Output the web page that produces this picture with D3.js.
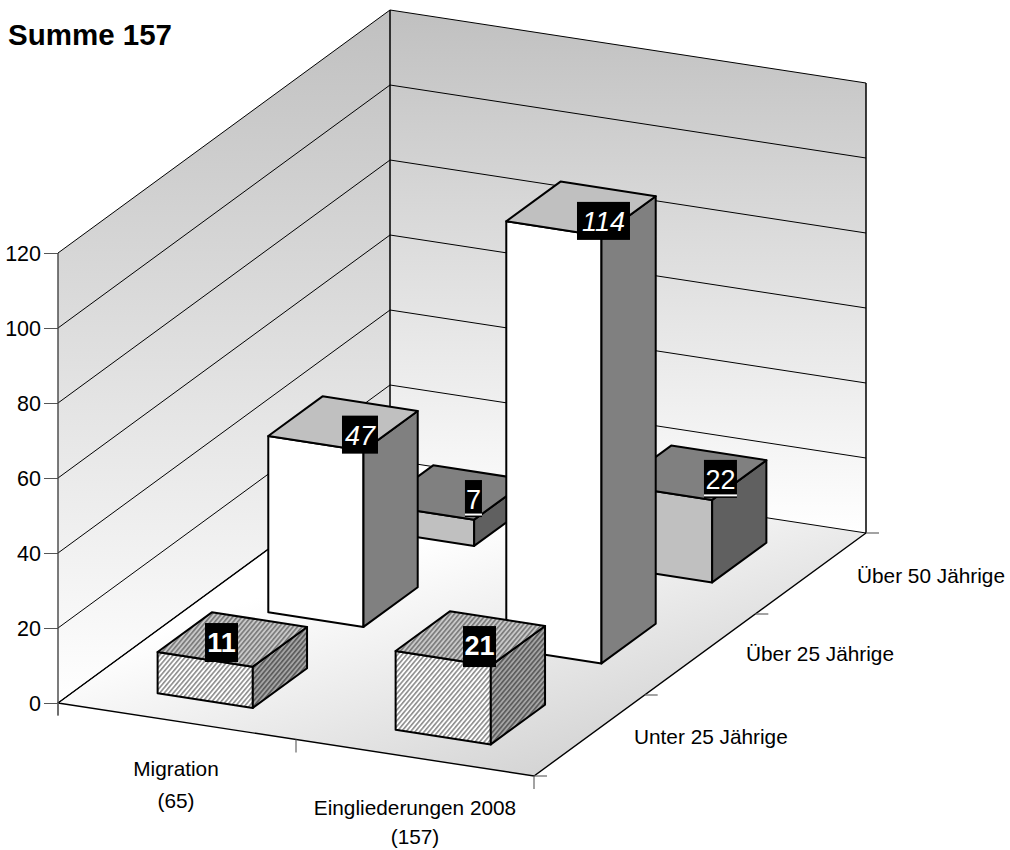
<!DOCTYPE html>
<html><head><meta charset="utf-8">
<script src="https://cdn.jsdelivr.net/npm/d3@7"></script>
<style>html,body{margin:0;padding:0;background:#fff}svg{display:block}text{font-family:"Liberation Sans",Arial,sans-serif}</style>
</head><body><svg id="c" width="1010" height="850"></svg>
<script>
const title = "Summe 157";
const columns = ["Migration", "Eingliederungen 2008"];
const columnTotals = ["(65)", "(157)"];
const rows = ["Unter 25 Jährige", "Über 25 Jährige", "Über 50 Jährige"];
const migration = [11, 47, 7];
const eingliederungen = [21, 114, 22];
const yTicks = [0, 20, 40, 60, 80, 100, 120];

// label styling per row and small per-label nudges
const labelStyle = [{weight:"bold"},{style:"italic"},{underline:true}];
const labelNudge = {"0-0":[-31.3,-4.6,39],"1-0":[-11.3,1.4,41],"0-1":[-3.5,3,38],"1-1":[2,4,38],"0-2":[-0.7,-2.6,37],"1-2":[8.3,-2,38]};
const rowLabelPos = [[634,744],[746,661],[857,583]];
const colLabelPos = [[176,776,808],[415,815,844]];

const svg = d3.select("#c");
const O = [58,703], DX = [476,73], DZ = [332,-243];
const yH = d3.scaleLinear().domain([0,120]).range([0,450]);
const xB = d3.scaleBand().domain(columns).range([0,1]).paddingInner(.6).paddingOuter(.3);
const zB = d3.scaleBand().domain(rows).range([0,1]).paddingInner(.51).paddingOuter(.255);
const P = (u,v,h=0)=>[O[0]+DX[0]*u+DZ[0]*v, O[1]+DX[1]*u+DZ[1]*v-yH(h)];
const poly = pts => "M"+pts.map(p=>p.join(",")).join("L")+"Z";

const defs = svg.append("defs");
function grad(id,p1,p2,stops){
  const g=defs.append("linearGradient").attr("id",id).attr("gradientUnits","userSpaceOnUse")
    .attr("x1",p1[0]).attr("y1",p1[1]).attr("x2",p2[0]).attr("y2",p2[1]);
  stops.forEach(s=>g.append("stop").attr("offset",s[0]).attr("stop-color",s[1]));
}
grad("gBack",[0,P(0,1,120)[1]],[0,P(1,1,0)[1]],[[0,"#c0c0c0"],[1,"#ffffff"]]);
grad("gLeft",[0,P(0,1,120)[1]],[0,P(0,0,0)[1]],[[0,"#c0c0c0"],[1,"#ffffff"]]);
grad("gFloor",[200,617],[283,864],[[0,"#ffffff"],[1,"#d4d4d4"]]);
function hatch(id,bg,fg){
  const p=defs.append("pattern").attr("id",id).attr("patternUnits","userSpaceOnUse")
    .attr("width",3.5).attr("height",3.5).attr("patternTransform","rotate(40)");
  p.append("rect").attr("width",3.5).attr("height",3.5).attr("fill",bg);
  p.append("rect").attr("width",1.6).attr("height",3.5).attr("fill",fg);
}
hatch("hFront","#ffffff","#8c8c8c");
hatch("hTop","#c8c8c8","#787878");
hatch("hSide","#a4a4a4","#585858");

// walls + floor
svg.append("path").attr("d",poly([P(0,0,0),P(0,0,120),P(0,1,120),P(0,1,0)])).attr("fill","url(#gLeft)");
svg.append("path").attr("d",poly([P(0,1,0),P(0,1,120),P(1,1,120),P(1,1,0)])).attr("fill","url(#gBack)");
svg.append("path").attr("d",poly([P(0,0),P(1,0),P(1,1),P(0,1)])).attr("fill","url(#gFloor)");

// grid lines
const lineG = svg.append("g").attr("stroke","#000").attr("stroke-width",1).attr("fill","none");
yTicks.forEach(t=>{
  lineG.append("path").attr("d","M"+[P(0,0,t),P(0,1,t),P(1,1,t)].map(p=>p.join(",")).join("L"));
});
lineG.append("path").attr("d",poly([P(0,1,0),P(0,1,120)]));
lineG.append("path").attr("d",poly([P(1,1,0),P(1,1,120)]));
// floor outline
svg.append("path").attr("d","M"+[P(0,1),P(0,0),P(1,0),P(1,1)].map(p=>p.join(",")).join("L"))
  .attr("fill","none").attr("stroke","#000").attr("stroke-width",1.4);

// y axis
const yAxisScale = d3.scaleLinear().domain([0,120]).range([O[1],O[1]-yH(120)]);
const ax = svg.append("g").attr("transform",`translate(${O[0]},0)`)
  .call(d3.axisLeft(yAxisScale).tickValues(yTicks).tickSize(14).tickPadding(3));
ax.selectAll("text").attr("font-size",21.5).attr("fill","#000").attr("font-family",'"Liberation Sans",Arial,sans-serif').attr("dy","0.36em");
ax.selectAll("line").attr("stroke","#555");
ax.select(".domain").remove();
svg.append("line").attr("x1",O[0]).attr("x2",O[0]).attr("y1",O[1]-yH(120)).attr("y2",O[1]+12).attr("stroke","#444").attr("stroke-width",1.4);

// floor ticks
[0,.5,1].forEach(u=>{const p=P(u,0);
  svg.append("line").attr("x1",p[0]).attr("x2",p[0]).attr("y1",p[1]).attr("y2",p[1]+13).attr("stroke","#666").attr("stroke-width",1.2);});
[0,1/3,2/3,1].forEach(v=>{const p=P(1,v);
  svg.append("line").attr("x1",p[0]).attr("x2",p[0]+13).attr("y1",p[1]).attr("y2",p[1]).attr("stroke","#666").attr("stroke-width",1.2);});

// bars, back to front
const series=[migration,eingliederungen];
const fills=[
  {front:"url(#hFront)",top:"url(#hTop)",side:"url(#hSide)"},
  {front:"#ffffff",top:"#c0c0c0",side:"#808080"},
  {front:"#c0c0c0",top:"#808080",side:"#606060"}];
const bars=svg.append("g").attr("stroke","#000").attr("stroke-width",2).attr("stroke-linejoin","round");
const labels=[];
for(let r=rows.length-1;r>=0;r--){
  columns.forEach((c,ci)=>{
    const val=series[ci][r];
    const u0=xB(c),u1=u0+xB.bandwidth(),v0=zB(rows[r]),v1=v0+zB.bandwidth();
    bars.append("path").attr("d",poly([P(u0,v0,0),P(u1,v0,0),P(u1,v0,val),P(u0,v0,val)])).attr("fill",fills[r].front);
    bars.append("path").attr("d",poly([P(u1,v0,0),P(u1,v1,0),P(u1,v1,val),P(u1,v0,val)])).attr("fill",fills[r].side);
    bars.append("path").attr("d",poly([P(u0,v0,val),P(u1,v0,val),P(u1,v1,val),P(u0,v1,val)])).attr("fill",fills[r].top);
    labels.push({val,r,ci,a:P(u1,v0,val)});
  });
}
// data labels
labels.forEach(d=>{
  const st=labelStyle[d.r], s=String(d.val);
  const n=labelNudge[d.ci+"-"+d.r];
  const w=s.length===3?53:s.length===1?17:(st.style?36:33), h=n[2];
  const cx=d.a[0]+n[0], bottom=d.a[1]+n[1];
  svg.append("rect").attr("x",cx-w/2).attr("y",bottom-h).attr("width",w).attr("height",h).attr("fill","#000");
  const t=svg.append("text").attr("x",cx).attr("y",bottom-h+29).attr("text-anchor","middle")
    .attr("fill","#fff").attr("font-size",27).text(s);
  if(st.weight) t.attr("font-weight",st.weight);
  if(st.style) t.attr("font-style",st.style);
  if(st.underline) svg.append("rect").attr("x",cx-w/2).attr("y",bottom-3.5).attr("width",w).attr("height",2).attr("fill","#fff");
});

// category labels
columns.forEach((c,i)=>{
  const pos=colLabelPos[i];
  svg.append("text").attr("x",pos[0]).attr("y",pos[1]).attr("text-anchor","middle").attr("font-size",20.8).text(c);
  svg.append("text").attr("x",pos[0]).attr("y",pos[2]).attr("text-anchor","middle").attr("font-size",20.8).text(columnTotals[i]);
});
rows.forEach((c,i)=>{
  svg.append("text").attr("x",rowLabelPos[i][0]).attr("y",rowLabelPos[i][1]).attr("font-size",20.8).text(c);
});
svg.append("text").attr("x",8).attr("y",45).attr("font-size",29.5).attr("font-weight","bold").text(title);
</script></body></html>
